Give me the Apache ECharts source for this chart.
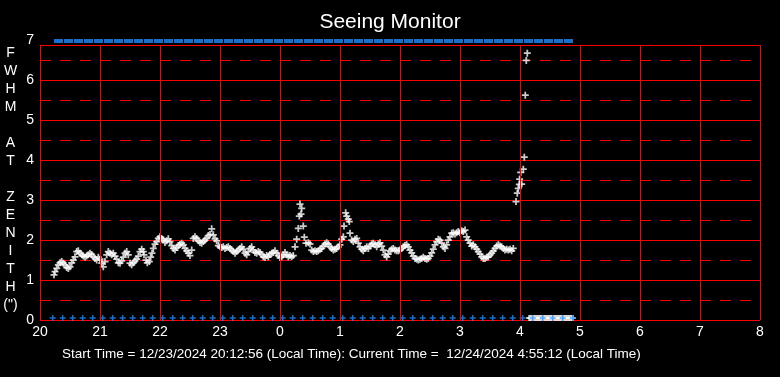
<!DOCTYPE html>
<html><head><meta charset="utf-8">
<script src="https://cdn.jsdelivr.net/npm/echarts@6/dist/echarts.min.js"></script>
<style>html,body{margin:0;padding:0;background:#000;}#c{width:780px;height:377px;}</style>
</head><body><div id="c"></div>
<script>
// Tick labels (hours, local time) for x ticks every 60 minutes from 20:00
const xTickLabels = ['20','21','22','23','0','1','2','3','4','5','6','7','8'];
const yTickLabels = ['0','1','2','3','4','5','6','7'];

// FWHM samples: minutes after 20:00 and FWHM at zenith (arcsec)
const fwhmMinutes = [
14,15,16.7,18.3,20,21.7,23.3,25,26.7,28.3,30,31.7,33.3,35,36.7,38.3,40,41.7,43.3,45,46.7,48.3,50,51.7,53.3,55,56.7,58.3,60,61.7,63.3,65,66.7,68.3,70,71.7,73.3,75,76.7,78.3,80,81.7,83.3,85,86.7,88.3,90,91.7,93.3,95,96.7,98.3,100,101.7,103.3,104,106,107.3,109.3,110.7,112,113.3,115,116.7,118.3,
120,121.7,123.3,125,126.7,128.3,130,131.7,133.3,135,136.7,138.3,140,141.7,143.3,145,146.7,148.3,150,151.7,153.3,155,156.7,158.3,160,161.7,163.3,165,166.7,168.3,170,171.7,173.3,175,176.7,178.3,180,181.7,183.3,185,186.7,188.3,190,191.7,193.3,195,196.7,198.3,200,201.7,203.3,205,206.7,208.3,210,211.7,213.3,215,216.7,218.3,220,221.7,223.3,225,226.7,228.3,230,231.7,233.3,235,236.7,238.3,240,241.7,243.3,245,246.7,248.3,250,251.7,253.3,
255,256.7,258.3,259.3,260,261,261.7,263.3,264.3,266,268.3,270,271.7,273.3,275,276.7,278.3,280,281.7,283.3,285,286.7,288.3,290,291.7,293.3,295,296.7,298.3,300,301.7,303.3,304,305.7,306.7,308.3,309.3,310,311.7,313.3,315,316.7,318.3,320,321.7,323.3,325,326.7,328.3,330,331.7,333.3,335,336.7,338.3,340,341.7,343.3,345,346.7,348.3,350,351.7,353.3,355,356.7,358.3,360,361.7,363.3,365,366.7,368.3,370,371.7,373.3,375,376.7,378.3,380,381.7,383.3,385,386.7,388.3,390,391.7,393.3,395,396.7,398.3,400,401.7,403.3,405,406.7,408.3,410,411.7,413.3,415,416.7,418.3,420,421.7,423.3,425,426.7,428.3,430,431.7,433.3,435,436.7,438.3,440,441.7,443.3,445,446.7,448.3,450,451.7,453.3,455,456.7,458.3,460,461.7,463.3,465,466.7,468.3,470,471.7,473.3,
476,477.3,478.3,479.3,479.6,480.7,481.7,483.3,484.3,485.3,486.3,487.3
];
const fwhmValues = [
1.13,1.21,1.29,1.38,1.43,1.46,1.42,1.38,1.31,1.29,1.33,1.43,1.50,1.58,1.71,1.73,1.67,1.63,1.60,1.57,1.60,1.63,1.67,1.64,1.58,1.54,1.50,1.57,1.52,1.42,1.33,1.46,1.63,1.71,1.67,1.63,1.67,1.60,1.52,1.43,1.42,1.48,1.57,1.67,1.71,1.63,1.42,1.38,1.43,1.48,1.52,1.60,1.71,1.77,1.71,1.63,1.50,1.43,1.46,1.57,1.67,1.79,1.90,1.96,2.04,
2.08,2.04,2.00,1.94,1.98,2.03,1.96,1.86,1.79,1.75,1.81,1.86,1.89,1.92,1.88,1.79,1.73,1.67,1.61,1.75,2.04,2.08,2.04,1.98,1.94,1.92,1.96,2.00,2.04,2.11,2.14,2.28,2.13,2.03,1.98,1.86,1.83,1.81,1.83,1.79,1.81,1.83,1.79,1.75,1.71,1.67,1.71,1.75,1.79,1.83,1.77,1.67,1.63,1.71,1.79,1.83,1.75,1.69,1.67,1.71,1.69,1.64,1.58,1.56,1.61,1.58,1.64,1.67,1.69,1.73,1.67,1.61,1.56,1.58,1.63,1.69,1.63,1.58,1.61,1.58,1.61,
1.83,2.02,2.29,2.60,2.90,2.65,2.79,2.35,2.07,1.92,1.93,1.90,1.75,1.71,1.73,1.71,1.73,1.77,1.79,1.85,1.90,1.93,1.90,1.83,1.79,1.75,1.77,1.79,1.83,1.88,2.02,2.08,2.35,2.68,2.60,2.52,2.46,2.17,2.00,1.96,2.02,2.04,1.92,1.83,1.77,1.73,1.79,1.83,1.79,1.85,1.90,1.92,1.88,1.83,1.90,1.93,1.85,1.75,1.63,1.58,1.65,1.73,1.77,1.79,1.75,1.73,1.73,1.75,1.79,1.83,1.86,1.88,1.83,1.75,1.68,1.60,1.54,1.52,1.50,1.52,1.54,1.57,1.54,1.52,1.54,1.60,1.68,1.77,1.88,1.96,2.02,2.00,1.92,1.83,1.79,1.88,2.00,2.08,2.17,2.18,2.15,2.18,2.21,2.18,2.23,2.21,2.25,2.08,2.00,1.92,1.85,1.88,1.83,1.77,1.71,1.65,1.58,1.54,1.54,1.57,1.58,1.63,1.67,1.73,1.79,1.85,1.88,1.85,1.83,1.79,1.75,1.77,1.75,1.77,1.73,1.79,
2.96,3.17,3.29,3.39,3.52,3.69,3.40,3.77,4.07,5.62,6.49,6.67
];

// Idle (no measurement) markers along the bottom, minutes after 20:00
const idleMinutes = [489,490,491,492,493,494,495,496,497,498,499,500,501,502,503,504,505,506,507,508,509,510,511,512,513,514,515,516,517,518,519,520,521,522,523,524,525,526,527,528,529,530,531,532,533];
// Blue status checks along the bottom, minutes after 20:00
const checkMinutes = [12.7,22.7,32.7,42.7,52.7,62.7,72.7,82.7,92.7,102.7,112.7,122.7,132.7,142.7,152.7,162.7,172.7,182.7,192.7,202.7,212.7,222.7,232.7,242.7,252.7,262.7,272.7,282.7,292.7,302.7,312.7,322.7,332.7,342.7,352.7,362.7,372.7,382.7,392.7,402.7,412.7,422.7,432.7,442.7,452.7,462.7,472.7,482.7,492.7,502.7,512.7,522.7,532.7];
// Blue flag band along the top, minutes after 20:00
const flagMinutes = [18.5,28.5,38.5,48.5,58.5,68.5,78.5,88.5,98.5,108.5,118.5,128.5,138.5,148.5,158.5,168.5,178.5,188.5,198.5,208.5,218.5,228.5,238.5,248.5,258.5,268.5,278.5,288.5,298.5,308.5,318.5,328.5,338.5,348.5,358.5,368.5,378.5,388.5,398.5,408.5,418.5,428.5,438.5,448.5,458.5,468.5,478.5,488.5,498.5,508.5,518.5,528.5];
const idleLevel = 0.05;
const checkLevel = 0.05;
const flagLevel = 6.975;
const frameTop = 6.875;

const yAxisName = ['F','W','H','M','','A','T','','Z','E','N','I','T','H','(")'];

const PLUS = 'path://M3,0H5V3H8V5H5V8H3V5H0V3H3Z';
const FONT = '"Liberation Sans", Arial, sans-serif';
const RED = '#ff0000';
const BLUE = '#1e8cff';

// frame: vertical lines at each hour tick, from 0 up to the frame top, plus the top edge
const frameLines = xTickLabels.map((_, i) => [{coord: [i * 60, 0]}, {coord: [i * 60, frameTop]}]);
frameLines.push({yAxis: frameTop});

const chart = echarts.init(document.getElementById('c'), null, {renderer: 'canvas'});
chart.setOption({
  backgroundColor: '#000',
  animation: false,
  textStyle: {fontFamily: FONT},
  title: [
    {text: 'Seeing Monitor', left: 'center', top: 7,
     textStyle: {color: '#fff', fontSize: 21, fontWeight: 'normal', fontFamily: FONT}},
    {text: 'Start Time = 12/23/2024 20:12:56 (Local Time): Current Time =  12/24/2024 4:55:12 (Local Time)',
     left: 62, top: 347, padding: 0,
     textStyle: {color: '#fff', fontSize: 13.5, fontWeight: 'normal', fontFamily: FONT}}
  ],
  graphic: [{
    type: 'text', x: 10.5, y: 44, silent: true,
    style: {text: yAxisName.join('\n'), fill: '#fff', font: '14px ' + FONT, lineHeight: 18, align: 'center', verticalAlign: 'top'}
  }],
  grid: {left: 40, right: 20, top: 40, bottom: 57, containLabel: false},
  xAxis: {
    type: 'value', min: 0, max: 720, interval: 60,
    axisLine: {show: false}, axisTick: {show: false},
    axisLabel: {color: '#fff', fontSize: 14, margin: 5, fontFamily: FONT,
      formatter: v => xTickLabels[Math.round(v / 60)]},
    splitLine: {show: false}
  },
  yAxis: {
    type: 'value', min: 0, max: 7, interval: 1,
    axisLine: {show: false}, axisTick: {show: false},
    axisLabel: {color: '#fff', fontSize: 14, margin: 6, fontFamily: FONT,
      formatter: v => yTickLabels[Math.round(v)]},
    splitLine: {show: true, lineStyle: {color: [RED, RED, RED, RED, RED, RED, RED, 'rgba(0,0,0,0)'], width: 1}},
    minorTick: {show: false, splitNumber: 2},
    minorSplitLine: {show: true, lineStyle: {color: RED, width: 1, type: [11, 9]}}
  },
  series: [
    {
      type: 'scatter', name: 'FWHM', symbol: PLUS, symbolSize: 7,
      itemStyle: {color: '#fff'},
      data: fwhmMinutes.map((m, i) => [m, fwhmValues[i]]),
      markLine: {silent: true, symbol: 'none', label: {show: false}, animation: false,
        lineStyle: {color: RED, width: 1, type: 'solid'},
        data: frameLines}
    },
    {
      type: 'scatter', name: 'idle', symbol: PLUS, symbolSize: 6,
      itemStyle: {color: '#fff'},
      data: idleMinutes.map(m => [m, idleLevel])
    },
    {
      type: 'scatter', name: 'check', symbol: PLUS, symbolSize: 6,
      itemStyle: {color: BLUE},
      data: checkMinutes.map(m => [m, checkLevel])
    },
    {
      type: 'scatter', name: 'flag', symbol: 'rect', symbolSize: [9, 4],
      itemStyle: {color: BLUE},
      data: flagMinutes.map(m => [m, flagLevel])
    }
  ]
});
</script>
</body></html>
